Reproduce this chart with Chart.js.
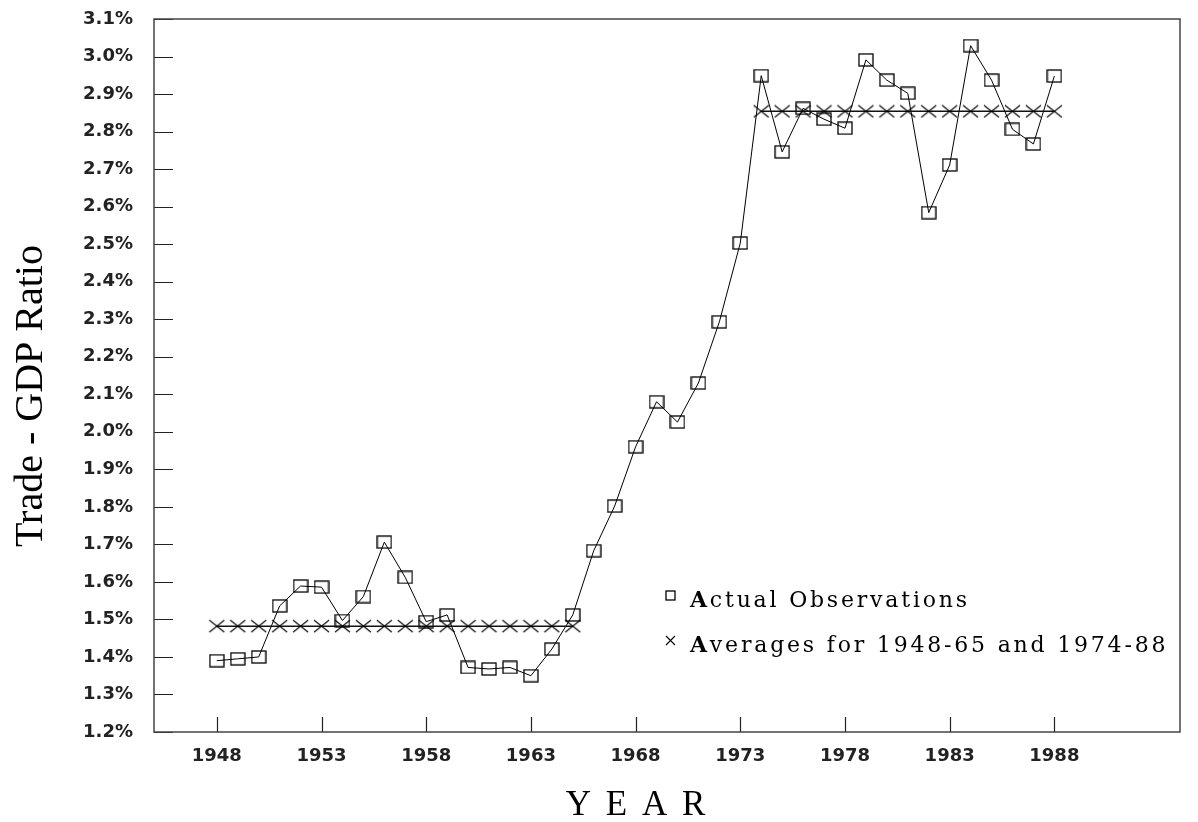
<!DOCTYPE html>
<html>
<head>
<meta charset="utf-8">
<script src="https://cdn.jsdelivr.net/npm/chart.js@4/dist/chart.umd.min.js"></script>
<style>
    html, body { margin: 0; padding: 0; background: #fff; }
    canvas { display: block; }
</style>
</head>
<body>
<canvas id="tradeChart" width="1198" height="822"></canvas>
<script>
// trade / GDP ratio, percent
const years = [1948, 1949, 1950, 1951, 1952, 1953, 1954, 1955, 1956, 1957,
    1958, 1959, 1960, 1961, 1962, 1963, 1964, 1965, 1966, 1967,
    1968, 1969, 1970, 1971, 1972, 1973, 1974, 1975, 1976, 1977,
    1978, 1979, 1980, 1981, 1982, 1983, 1984, 1985, 1986, 1987, 1988];
const actual = [1.390, 1.395, 1.400, 1.536, 1.589, 1.586, 1.497, 1.561, 1.706, 1.612,
    1.494, 1.512, 1.372, 1.368, 1.372, 1.350, 1.421, 1.512, 1.683, 1.802,
    1.960, 2.080, 2.026, 2.130, 2.293, 2.503, 2.949, 2.746, 2.862, 2.833,
    2.809, 2.991, 2.937, 2.902, 2.584, 2.711, 3.029, 2.937, 2.806, 2.767, 2.948];

const earlyYears = [1948, 1949, 1950, 1951, 1952, 1953, 1954, 1955, 1956,
    1957, 1958, 1959, 1960, 1961, 1962, 1963, 1964, 1965];
const earlyAvg = [1.482, 1.482, 1.482, 1.482, 1.482, 1.482, 1.482, 1.482, 1.482,
    1.482, 1.482, 1.482, 1.482, 1.482, 1.482, 1.482, 1.482, 1.482];
const lateYears = [1974, 1975, 1976, 1977, 1978, 1979, 1980, 1981,
    1982, 1983, 1984, 1985, 1986, 1987, 1988];
const lateAvg = [2.854, 2.854, 2.854, 2.854, 2.854, 2.854, 2.854, 2.854,
    2.854, 2.854, 2.854, 2.854, 2.854, 2.854, 2.854];

const xTicks = [1948, 1953, 1958, 1963, 1968, 1973, 1978, 1983, 1988];
const yTicks = [1.2, 1.3, 1.4, 1.5, 1.6, 1.7, 1.8, 1.9, 2.0, 2.1,
    2.2, 2.3, 2.4, 2.5, 2.6, 2.7, 2.8, 2.9, 3.0, 3.1];

const legendLabels = ['Actual Observations', 'Averages for 1948-65 and 1974-88'];

function boxMarker(w, h) {
    const c = document.createElement('canvas');
    c.width = w + 2;
    c.height = h + 2;
    const g = c.getContext('2d');
    g.strokeStyle = '#000';
    g.lineWidth = 1.3;
    g.strokeRect(1, 1, w, h);
    return c;
}

function crossMarker(w, h) {
    const c = document.createElement('canvas');
    c.width = w + 2;
    c.height = h + 2;
    const g = c.getContext('2d');
    g.strokeStyle = '#000';
    g.lineWidth = 1.1;
    g.beginPath();
    g.moveTo(1, 1);
    g.lineTo(w + 1, h + 1);
    g.moveTo(w + 1, 1);
    g.lineTo(1, h + 1);
    g.stroke();
    return c;
}

const toPoints = (xs, ys) => xs.map((x, i) => ({ x: x, y: ys[i] }));

// frame, inward tick marks, axis titles and the legend box
const decorations = {
    id: 'decorations',
    afterDraw(chart) {
        const ctx = chart.ctx;
        const area = chart.chartArea;
        const xs = chart.scales.x;
        const ys = chart.scales.y;

        ctx.save();
        ctx.strokeStyle = '#222';
        ctx.lineWidth = 1.2;
        ctx.beginPath();
        yTicks.forEach(v => {
            const py = Math.round(ys.getPixelForValue(v)) + 0.5;
            ctx.moveTo(area.left, py);
            ctx.lineTo(area.left + 19, py);
        });
        xTicks.forEach(v => {
            const px = Math.round(xs.getPixelForValue(v)) + 0.5;
            ctx.moveTo(px, area.bottom);
            ctx.lineTo(px, area.bottom - 15);
        });
        ctx.stroke();

        ctx.strokeStyle = '#444';
        ctx.lineWidth = 1.5;
        ctx.strokeRect(area.left, area.top, area.right - area.left, area.bottom - area.top);

        // axis titles
        ctx.fillStyle = '#000';
        ctx.font = '40px "Liberation Serif"';
        ctx.textAlign = 'center';
        ctx.textBaseline = 'alphabetic';
        ctx.save();
        ctx.translate(42, 396);
        ctx.rotate(-Math.PI / 2);
        ctx.fillText('Trade - GDP Ratio', 0, 0);
        ctx.restore();

        ctx.font = '35px "Liberation Serif"';
        ctx.letterSpacing = '3px';
        ctx.fillText('Y E A R', 637, 815);
        ctx.letterSpacing = '0px';

        // legend
        const lx = 690;
        const rows = [607, 652];
        ctx.drawImage(boxMarker(9, 9), 665, rows[0] - 17);
        ctx.drawImage(crossMarker(9, 9), 665, rows[1] - 17);
        ctx.textAlign = 'left';
        ctx.letterSpacing = '2.8px';
        legendLabels.forEach((label, i) => {
            ctx.font = 'bold 22px "DejaVu Serif"';
            ctx.fillText(label[0], lx, rows[i]);
            const w = ctx.measureText(label[0]).width;
            ctx.font = '22px "DejaVu Serif"';
            ctx.fillText(label.slice(1), lx + w, rows[i]);
        });
        ctx.restore();
    }
};

new Chart(document.getElementById('tradeChart'), {
    type: 'scatter',
    data: {
        datasets: [
            {
                label: 'Averages 1948-65',
                data: toPoints(earlyYears, earlyAvg),
                showLine: true,
                borderColor: '#111',
                borderWidth: 1.6,
                pointStyle: crossMarker(15, 12),
                pointRadius: 7,
            },
            {
                label: 'Averages 1974-88',
                data: toPoints(lateYears, lateAvg),
                showLine: true,
                borderColor: '#111',
                borderWidth: 1.6,
                pointStyle: crossMarker(15, 12),
                pointRadius: 7,
            },
            {
                label: legendLabels[0],
                data: toPoints(years, actual),
                showLine: true,
                borderColor: '#000',
                borderWidth: 1,
                pointStyle: boxMarker(14, 12),
                pointRadius: 7,
            },
        ],
    },
    options: {
        responsive: false,
        animation: false,
        layout: {
            autoPadding: false,
            padding: { left: 0, top: 19, right: 18, bottom: 0 },
        },
        plugins: {
            legend: { display: false },
            tooltip: { enabled: false },
        },
        scales: {
            x: {
                type: 'linear',
                min: 1945,
                max: 1994,
                afterBuildTicks: scale => { scale.ticks = xTicks.map(v => ({ value: v })); },
                afterFit: scale => {
                    scale.height = 90;
                    scale.paddingLeft = 0;
                    scale.paddingRight = 0;
                },
                grid: { display: false, drawTicks: false },
                border: { display: false },
                ticks: {
                    padding: 14,
                    color: '#222',
                    font: { family: '"DejaVu Sans"', size: 18, weight: 'bold' },
                    callback: v => String(v),
                },
            },
            y: {
                min: 1.2,
                max: 3.1,
                afterBuildTicks: scale => { scale.ticks = yTicks.map(v => ({ value: v })); },
                afterFit: scale => {
                    scale.width = 154;
                    scale.paddingTop = 0;
                    scale.paddingBottom = 0;
                },
                grid: { display: false, drawTicks: false },
                border: { display: false },
                ticks: {
                    padding: 21,
                    color: '#222',
                    font: { family: '"DejaVu Sans"', size: 18, weight: 'bold' },
                    callback: v => v.toFixed(1) + '%',
                },
            },
        },
    },
    plugins: [decorations],
});
</script>
</body>
</html>
